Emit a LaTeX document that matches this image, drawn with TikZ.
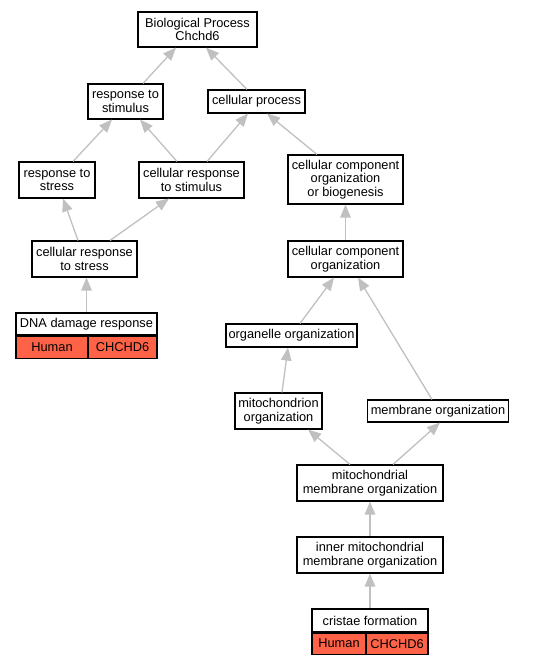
\documentclass[tikz,border=0pt]{standalone}
\usepackage{fontspec}
\setmainfont{Liberation Sans}
\usetikzlibrary{arrows.meta,positioning}
\definecolor{edgegray}{RGB}{192,192,192}
\definecolor{hitred}{RGB}{255,99,71}
\newcommand{\termfont}{\fontsize{12.8}{13.8}\selectfont}
\tikzset{
  term/.style={draw=black, fill=white, line width=1.1pt, font=\termfont, align=center, inner sep=1pt, minimum height=23pt},
  twoline/.style={term, minimum height=36pt},
  hit/.style={term, fill=hitred, minimum height=22pt},
  isa/.style={draw=edgegray, line width=1.3pt, -{Triangle[length=13pt,width=10.5pt]}}
}
\begin{document}
\begin{tikzpicture}[x=1pt,y=-1pt]
	\useasboundingbox (0,0) rectangle (540,664);
	% terms
	\node[twoline, minimum width=119pt, minimum height=35pt] (bp) at (197.5,29.5) {Biological Process\\Chchd6};
	\node[twoline, minimum width=75pt, minimum height=35pt] (rstim) at (125.5,101.5) {response to\\stimulus};
	\node[term, minimum width=97pt] (cproc) at (256.5,101.5) {cellular process};
	\node[twoline, minimum width=76pt] (rstress) at (57,180) {response to\\stress};
	\node[twoline, minimum width=105pt] (crstim) at (191.5,180) {cellular response\\to stimulus};
	\node[term, minimum width=115pt, minimum height=49pt] (cccob) at (345.5,179.5) {cellular component\\organization\\or biogenesis};
	\node[twoline, minimum width=105pt] (crstress) at (84.5,259) {cellular response\\to stress};
	\node[twoline, minimum width=115pt] (cco) at (345.5,259) {cellular component\\organization};
	\node[term, minimum width=131pt] (orgorg) at (291.5,335.5) {organelle organization};
	\node[twoline, minimum width=87pt] (mitorg) at (278.5,411) {mitochondrion\\organization};
	\node[term, minimum width=141pt, minimum height=22pt] (memorg) at (438,411) {membrane organization};
	\node[twoline, minimum width=146pt] (mmo) at (370,483) {mitochondrial\\membrane organization};
	\node[twoline, minimum width=146pt] (imo) at (370,555) {inner mitochondrial\\membrane organization};
	% annotated terms
	\node[term, minimum width=141pt, minimum height=22pt] (dna) at (86.5,324) {DNA damage response};
	\node[hit, minimum width=72pt, anchor=north west] (dnah) at (dna.south west) {Human};
	\node[hit, minimum width=69pt, anchor=north east] (dnag) at (dna.south east) {CHCHD6};
	\node[term, minimum width=116pt] (cf) at (370,620.5) {cristae formation};
	\node[hit, minimum width=54pt, minimum height=21pt, anchor=north west] (cfh) at (cf.south west) {Human};
	\node[hit, minimum width=62pt, minimum height=21pt, anchor=north east] (cfg) at (cf.south east) {CHCHD6};
	% is_a edges
	\draw[isa] ([xshift=17.5pt]rstim.north) -- ([xshift=-21.5pt]bp.south);
	\draw[isa] ([xshift=-9.5pt]cproc.north) -- ([xshift=8.5pt]bp.south);
	\draw[isa] ([xshift=16pt]rstress.north) -- ([xshift=-13.5pt]rstim.south);
	\draw[isa] ([xshift=-14.5pt]crstim.north) -- ([xshift=14.5pt]rstim.south);
	\draw[isa] ([xshift=15.5pt]crstim.north) -- ([xshift=-8.5pt]cproc.south);
	\draw[isa] ([xshift=-28.5pt]cccob.north) -- ([xshift=10.5pt]cproc.south);
	\draw[isa] ([xshift=-6.5pt]crstress.north) -- ([xshift=6pt]rstress.south);
	\draw[isa] ([xshift=25.5pt]crstress.north) -- ([xshift=-22.5pt]crstim.south);
	\draw[isa] (cco) -- (cccob);
	\draw[isa] (dna.north) -- (dna.north |- crstress.south);
	\draw[isa] ([xshift=8.5pt]orgorg.north) -- ([xshift=-11.5pt]cco.south);
	\draw[isa] ([xshift=-6pt]memorg.north) -- ([xshift=12.5pt]cco.south);
	\draw[isa] ([xshift=3.5pt]mitorg.north) -- ([xshift=-3.5pt]orgorg.south);
	\draw[isa] ([xshift=-20pt]mmo.north) -- ([xshift=29.5pt]mitorg.south);
	\draw[isa] ([xshift=23pt]mmo.north) -- ([xshift=2pt]memorg.south);
	\draw[isa] (imo) -- (mmo);
	\draw[isa] (cf) -- (imo);
\end{tikzpicture}
\end{document}
